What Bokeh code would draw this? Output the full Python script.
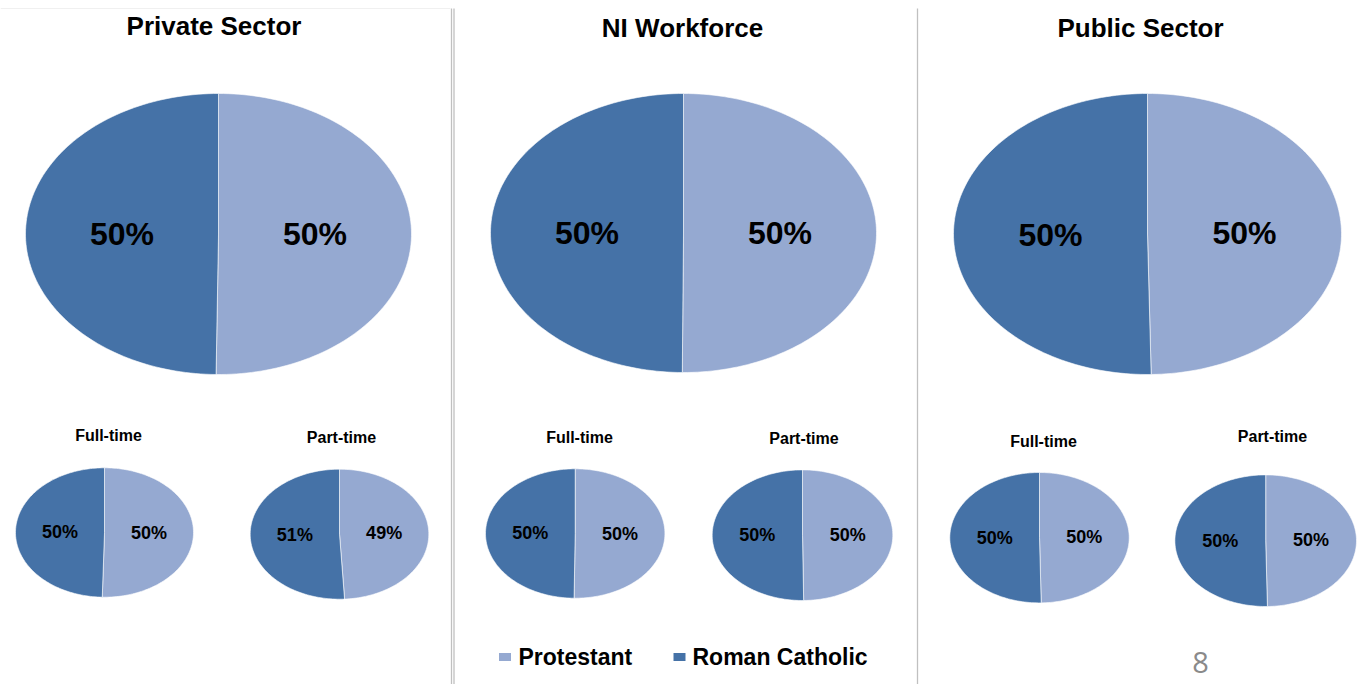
import numpy as np
from bokeh.plotting import figure
from bokeh.models import Range1d, ColumnDataSource
from bokeh.core.properties import value
from bokeh.embed import file_html
from bokeh.resources import INLINE

# ---------------- data ----------------
panels = ["Private Sector", "NI Workforce", "Public Sector"]
sub_titles = ["Full-time", "Part-time"]
series = ["Protestant", "Roman Catholic"]
# per panel: [overall, full-time, part-time]
protestant = [[50.2, 50.4, 49.1], [50.1, 50.2, 49.8], [49.7, 49.7, 49.7]]
roman_catholic = [[49.8, 49.6, 50.9], [49.9, 49.8, 50.2], [50.3, 50.3, 50.3]]
page_number = "8"

# ---------------- style / layout ----------------
colors = ["#95A9D1", "#4572A7"]
FONT = value("Liberation Sans")
W, H = 1358, 684
PAGE_H = 684

# ellipse centre (screen px) and semi-axes: [panel][pie] -> (cx, cy, a, b)
geom = [
    [(218, 233.5, 193, 140.5), (104, 532, 89, 64.7), (339, 533.7, 89.3, 65)],
    [(683, 232.5, 193, 139.5), (574.7, 533, 89.7, 64.7), (802, 534.7, 90.3, 65.3)],
    [(1147, 233.5, 194, 140.5), (1039, 537.2, 89.7, 65.2), (1265.2, 540.2, 90.8, 65.8)],
]
title_pos = [(213.5, 25.5), (682, 27), (1140, 27)]
sub_pos = [[(108, 435), (341, 437)], [(579, 437), (803.5, 438)], [(1043, 440.5), (1272, 436)]]


def Y(sy):
    return PAGE_H - sy


p = figure(width=W, height=H, x_range=Range1d(0, W), y_range=Range1d(PAGE_H - H, PAGE_H),
           output_backend="svg", toolbar_location=None, min_border=0,
           x_axis_location=None, y_axis_location=None)
p.grid.visible = False
p.outline_line_color = None
p.background_fill_color = "white"
p.border_fill_color = "white"

# separators
p.segment(x0=[451, 453.5, 917], y0=[Y(8)] * 3, x1=[451, 453.5, 917], y1=[Y(684)] * 3,
          line_color="#c0c0c0", line_width=1.3)
p.segment(x0=[0], y0=[Y(8)], x1=[450], y1=[Y(8)], line_color="#f0f0f0", line_width=1)

xs, ys, fills = [], [], []
lab_x, lab_y, lab_t, lab_size = [], [], [], []
for i in range(len(panels)):
    for j in range(3):
        cx, cy, a, b = geom[i][j]
        vals = [protestant[i][j], roman_catholic[i][j]]
        tot = sum(vals)
        start = 0.0
        for k, v in enumerate(vals):
            frac = v / tot
            end = start + frac * 2 * np.pi
            n = max(int(frac * 240), 8)
            th = np.linspace(start, end, n)
            px = np.concatenate([[cx], cx + a * np.sin(th), [cx]])
            py = np.concatenate([[Y(cy)], Y(cy) + b * np.cos(th), [Y(cy)]])
            xs.append(list(px))
            ys.append(list(py))
            fills.append(colors[k])
            mid = (start + end) / 2
            lab_x.append(cx + 0.5 * a * np.sin(mid))
            lab_y.append(Y(cy) + 0.5 * b * np.cos(mid))
            lab_t.append(f"{round(v)}%")
            lab_size.append("32px" if j == 0 else "18px")
            start = end

p.patches(xs=xs, ys=ys, fill_color=fills, line_color="white", line_width=0.6)

lsrc = ColumnDataSource(dict(x=lab_x, y=lab_y, t=lab_t, s=lab_size))
p.text(x="x", y="y", text="t", source=lsrc, text_font=FONT, text_font_style="bold",
       text_font_size="s", text_align="center", text_baseline="middle", text_color="black")

# panel titles
p.text(x=[t[0] for t in title_pos], y=[Y(t[1]) for t in title_pos], text=panels,
       text_font=FONT, text_font_style="bold", text_font_size="26px",
       text_align="center", text_baseline="middle", text_color="black")

# sub titles
sx, sy, st = [], [], []
for i in range(len(panels)):
    for j in range(2):
        sx.append(sub_pos[i][j][0])
        sy.append(Y(sub_pos[i][j][1]))
        st.append(sub_titles[j])
p.text(x=sx, y=sy, text=st, text_font=FONT, text_font_style="bold", text_font_size="16px",
       text_align="center", text_baseline="middle", text_color="black")

# legend
leg_sq_x = [504.5, 679]
leg_tx = [518, 692]
p.rect(x=leg_sq_x, y=[Y(656.5)] * 2, width=12, height=8, fill_color=colors, line_color=None)
p.text(x=leg_tx, y=[Y(656)] * 2, text=series, text_font=FONT, text_font_style="bold",
       text_font_size="23px", text_align="left", text_baseline="middle", text_color="black")

# page number
p.text(x=[1200], y=[Y(662)], text=[page_number], text_font=value("Open Sans"),
       text_font_size="29px", text_align="center", text_baseline="middle", text_color="#8a8a8a")

open("out.html", "w").write(file_html(p, INLINE))
